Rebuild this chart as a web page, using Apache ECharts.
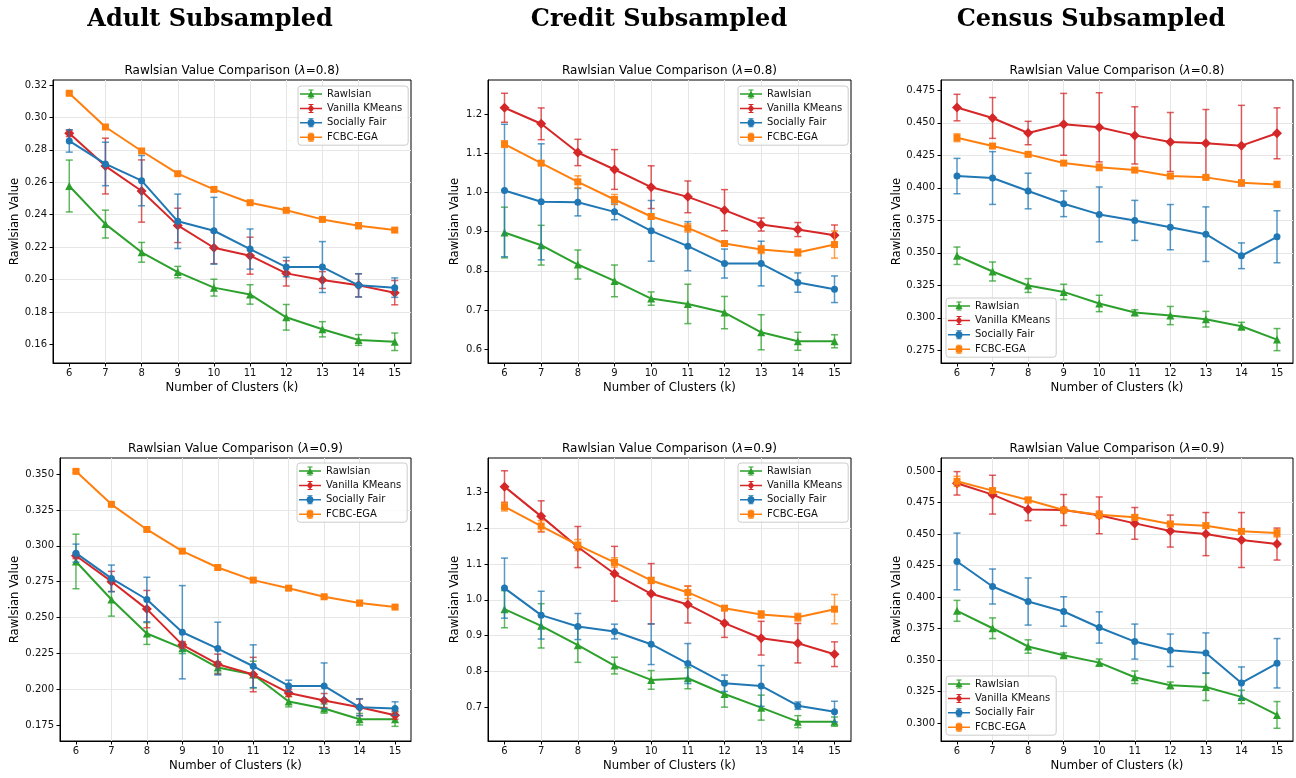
<!DOCTYPE html>
<html>
<head>
<meta charset="utf-8">
<script src="https://cdn.jsdelivr.net/npm/echarts@6/dist/echarts.min.js"></script>
<style>
  html, body { margin: 0; padding: 0; background: #fff; }
  #chart { width: 1296px; height: 778px; }
</style>
</head>
<body>
<div id="chart"></div>
<script>
// rawlsian value vs number of clusters, 3 datasets x 2 lambdas
const K = [6, 7, 8, 9, 10, 11, 12, 13, 14, 15];
const METHODS = ['Rawlsian', 'Vanilla KMeans', 'Socially Fair', 'FCBC-EGA'];
const DATASETS = ['Adult Subsampled', 'Credit Subsampled', 'Census Subsampled'];
const LAMBDAS = ['0.8', '0.9'];

// rows follow METHODS order, columns follow K
const adult08Mean = [
  [0.2577, 0.2342, 0.2168, 0.2046, 0.1950, 0.1908, 0.1767, 0.1693, 0.1627, 0.1616],
  [0.2902, 0.2700, 0.2546, 0.2334, 0.2196, 0.2147, 0.2038, 0.1997, 0.1964, 0.1919],
  [0.2855, 0.2713, 0.2610, 0.2359, 0.2301, 0.2188, 0.2077, 0.2077, 0.1964, 0.1950],
  [0.3149, 0.2941, 0.2793, 0.2653, 0.2556, 0.2474, 0.2427, 0.2371, 0.2332, 0.2305]
];
const adult08Std = [
  [0.0160, 0.0086, 0.0061, 0.0035, 0.0052, 0.0060, 0.0079, 0.0047, 0.0033, 0.0054],
  [0.0020, 0.0172, 0.0192, 0.0106, 0.0098, 0.0114, 0.0078, 0.0052, 0.0071, 0.0075],
  [0.0069, 0.0134, 0.0155, 0.0168, 0.0206, 0.0124, 0.0060, 0.0157, 0.0072, 0.0060],
  [0.0010, 0.0012, 0.0010, 0.0010, 0.0012, 0.0010, 0.0008, 0.0010, 0.0018, 0.0010]
];
const credit08Mean = [
  [0.8979, 0.8655, 0.8162, 0.7745, 0.7294, 0.7157, 0.6936, 0.6434, 0.6204, 0.6204],
  [1.2162, 1.1753, 1.1021, 1.0587, 1.0136, 0.9889, 0.9549, 0.9183, 0.9055, 0.8911],
  [1.0051, 0.9762, 0.9753, 0.9506, 0.9021, 0.8630, 0.8187, 0.8187, 0.7702, 0.7532],
  [1.1234, 1.0749, 1.0272, 0.9821, 0.9387, 0.9098, 0.8698, 0.8545, 0.8468, 0.8672]
];
const credit08Std = [
  [0.0647, 0.0507, 0.0370, 0.0405, 0.0170, 0.0502, 0.0412, 0.0447, 0.0230, 0.0166],
  [0.0370, 0.0405, 0.0336, 0.0507, 0.0545, 0.0405, 0.0524, 0.0166, 0.0179, 0.0260],
  [0.1690, 0.1480, 0.0350, 0.0200, 0.0775, 0.0626, 0.0370, 0.0570, 0.0247, 0.0340],
  [0.0085, 0.0050, 0.0153, 0.0128, 0.0050, 0.0107, 0.0050, 0.0102, 0.0090, 0.0347]
];
const census08Mean = [
  [0.3477, 0.3356, 0.3248, 0.3199, 0.3110, 0.3040, 0.3017, 0.2989, 0.2935, 0.2832],
  [0.4617, 0.4537, 0.4421, 0.4488, 0.4465, 0.4403, 0.4352, 0.4342, 0.4324, 0.4419],
  [0.4090, 0.4075, 0.3975, 0.3877, 0.3795, 0.3749, 0.3697, 0.3643, 0.3477, 0.3623],
  [0.4385, 0.4321, 0.4257, 0.4190, 0.4157, 0.4136, 0.4090, 0.4080, 0.4039, 0.4026]
];
const census08Std = [
  [0.0067, 0.0073, 0.0053, 0.0059, 0.0063, 0.0021, 0.0070, 0.0060, 0.0030, 0.0085],
  [0.0102, 0.0157, 0.0090, 0.0238, 0.0266, 0.0220, 0.0227, 0.0260, 0.0310, 0.0196],
  [0.0136, 0.0203, 0.0137, 0.0099, 0.0211, 0.0154, 0.0174, 0.0210, 0.0099, 0.0200],
  [0.0030, 0.0015, 0.0012, 0.0012, 0.0025, 0.0015, 0.0015, 0.0012, 0.0018, 0.0022]
];
const adult09Mean = [
  [0.2891, 0.2626, 0.2389, 0.2287, 0.2152, 0.2103, 0.1915, 0.1866, 0.1792, 0.1792],
  [0.2931, 0.2752, 0.2559, 0.2310, 0.2175, 0.2103, 0.1975, 0.1922, 0.1875, 0.1820],
  [0.2949, 0.2773, 0.2626, 0.2398, 0.2284, 0.2161, 0.2024, 0.2024, 0.1875, 0.1866],
  [0.3519, 0.3289, 0.3114, 0.2963, 0.2849, 0.2761, 0.2705, 0.2645, 0.2601, 0.2573]
];
const adult09Std = [
  [0.0190, 0.0116, 0.0076, 0.0038, 0.0040, 0.0093, 0.0037, 0.0032, 0.0040, 0.0050],
  [0.0020, 0.0070, 0.0130, 0.0023, 0.0070, 0.0120, 0.0026, 0.0049, 0.0058, 0.0028],
  [0.0063, 0.0093, 0.0155, 0.0325, 0.0184, 0.0149, 0.0040, 0.0160, 0.0059, 0.0047],
  [0.0010, 0.0010, 0.0010, 0.0010, 0.0010, 0.0010, 0.0012, 0.0010, 0.0018, 0.0010]
];
const credit09Mean = [
  [0.9738, 0.9271, 0.8729, 0.8159, 0.7757, 0.7804, 0.7364, 0.6981, 0.6589, 0.6589],
  [1.3168, 1.2336, 1.1477, 1.0729, 1.0168, 0.9869, 0.9346, 0.8925, 0.8785, 0.8477],
  [1.0327, 0.9570, 0.9252, 0.9112, 0.8757, 0.8215, 0.7664, 0.7589, 0.7037, 0.6869],
  [1.2607, 1.2065, 1.1533, 1.1047, 1.0542, 1.0206, 0.9766, 0.9589, 0.9514, 0.9738]
];
const credit09Std = [
  [0.0520, 0.0620, 0.0480, 0.0234, 0.0262, 0.0295, 0.0370, 0.0350, 0.0168, 0.0130],
  [0.0444, 0.0435, 0.0575, 0.0767, 0.0846, 0.0519, 0.0398, 0.0472, 0.0552, 0.0346],
  [0.0841, 0.0669, 0.0365, 0.0206, 0.0570, 0.0560, 0.0229, 0.0570, 0.0103, 0.0290],
  [0.0120, 0.0150, 0.0154, 0.0130, 0.0085, 0.0173, 0.0050, 0.0103, 0.0107, 0.0410]
];
const census09Mean = [
  [0.3890, 0.3752, 0.3607, 0.3538, 0.3479, 0.3363, 0.3299, 0.3286, 0.3207, 0.3064],
  [0.4902, 0.4812, 0.4695, 0.4690, 0.4648, 0.4584, 0.4523, 0.4499, 0.4452, 0.4420],
  [0.4282, 0.4083, 0.3964, 0.3885, 0.3758, 0.3646, 0.3577, 0.3556, 0.3318, 0.3474],
  [0.4918, 0.4844, 0.4770, 0.4690, 0.4653, 0.4632, 0.4579, 0.4566, 0.4521, 0.4507]
];
const census09Std = [
  [0.0083, 0.0082, 0.0053, 0.0018, 0.0029, 0.0050, 0.0026, 0.0108, 0.0053, 0.0106],
  [0.0093, 0.0154, 0.0089, 0.0123, 0.0146, 0.0126, 0.0127, 0.0171, 0.0218, 0.0127],
  [0.0225, 0.0139, 0.0187, 0.0117, 0.0124, 0.0139, 0.0129, 0.0159, 0.0127, 0.0196],
  [0.0040, 0.0020, 0.0020, 0.0020, 0.0030, 0.0020, 0.0020, 0.0020, 0.0020, 0.0030]
];

// y tick labels per panel
const adult08Ticks = [0.16, 0.18, 0.20, 0.22, 0.24, 0.26, 0.28, 0.30, 0.32];
const credit08Ticks = [0.6, 0.7, 0.8, 0.9, 1.0, 1.1, 1.2];
const census08Ticks = [0.275, 0.300, 0.325, 0.350, 0.375, 0.400, 0.425, 0.450, 0.475];
const adult09Ticks = [0.175, 0.200, 0.225, 0.250, 0.275, 0.300, 0.325, 0.350];
const credit09Ticks = [0.7, 0.8, 0.9, 1.0, 1.1, 1.2, 1.3];
const census09Ticks = [0.300, 0.325, 0.350, 0.375, 0.400, 0.425, 0.450, 0.475, 0.500];

const COLORS = ['#2ca02c', '#d62728', '#1f77b4', '#ff7f0e'];
const SYMBOLS = ['triangle', 'diamond', 'circle', 'rect'];
const SYMBOL_SIZES = [[8, 8], [10, 10], 7, 7];
const FONT = 'DejaVu Sans';

// legend handle: line + errorbar + marker, drawn in a 22x9 box
const HANDLE = 'M0 3.75H22V5.25H0Z M10.4 0H11.6V9H10.4Z M8.5 0H13.5V1H8.5Z M8.5 8H13.5V9H8.5Z ';
const MARKER_PATHS = [
  'M11 1L14.5 7.5L7.5 7.5Z',
  'M11 0.5L14.3 4.5L11 8.5L7.7 4.5Z',
  'M7.5 4.5A3.5 3.5 0 1 1 14.5 4.5A3.5 3.5 0 1 1 7.5 4.5Z',
  'M7.8 1.3H14.2V7.7H7.8Z'
];

const PANELS = [
  { mean: adult08Mean, std: adult08Std, ticks: adult08Ticks, lam: LAMBDAS[0], dec: 2, step: 0.02,
    yMin: 0.1485, yMax: 0.3231, box: [53, 80, 358, 283], nameGap: 32, legend: [298, 86] },
  { mean: credit08Mean, std: credit08Std, ticks: credit08Ticks, lam: LAMBDAS[0], dec: 1, step: 0.1,
    yMin: 0.565, yMax: 1.287, box: [488, 80, 363, 283], nameGap: 27, legend: [738, 86] },
  { mean: census08Mean, std: census08Std, ticks: census08Ticks, lam: LAMBDAS[0], dec: 3, step: 0.025,
    yMin: 0.2652, yMax: 0.4829, box: [941, 80, 352, 283], nameGap: 38, legend: [946, 298] },
  { mean: adult09Mean, std: adult09Std, ticks: adult09Ticks, lam: LAMBDAS[1], dec: 3, step: 0.025,
    yMin: 0.164, yMax: 0.3612, box: [60, 458, 351, 283], nameGap: 39, legend: [297, 463] },
  { mean: credit09Mean, std: credit09Std, ticks: credit09Ticks, lam: LAMBDAS[1], dec: 1, step: 0.1,
    yMin: 0.6047, yMax: 1.397, box: [488, 458, 363, 283], nameGap: 27, legend: [738, 463] },
  { mean: census09Mean, std: census09Std, ticks: census09Ticks, lam: LAMBDAS[1], dec: 3, step: 0.025,
    yMin: 0.2857, yMax: 0.5103, box: [941, 458, 352, 283], nameGap: 38, legend: [946, 676] }
];
const HEADER_X = [210, 659, 1091];

const chart = echarts.init(document.getElementById('chart'));

const grids = PANELS.map(p => ({
  left: p.box[0], top: p.box[1], width: p.box[2], height: p.box[3],
  show: true, borderColor: '#000', borderWidth: 1, backgroundColor: '#fff'
}));

const xAxes = PANELS.map((p, i) => ({
  type: 'value', gridIndex: i, min: 5.55, max: 15.45, minInterval: 1, maxInterval: 1,
  name: 'Number of Clusters (k)', nameLocation: 'middle', nameGap: 19,
  nameTextStyle: { fontFamily: FONT, fontSize: 11.7, color: '#000' },
  axisLine: { lineStyle: { color: '#000', width: 1 } },
  axisTick: { length: 3.5, lineStyle: { color: '#000' }, customValues: K },
  axisLabel: { customValues: K, margin: 5, fontFamily: FONT, fontSize: 10, color: '#111' },
  splitLine: { show: true, showMinLine: false, showMaxLine: false, lineStyle: { color: '#e6e6e6', width: 1 } }
}));

const yAxes = PANELS.map((p, i) => ({
  type: 'value', gridIndex: i, min: p.yMin, max: p.yMax, minInterval: p.step, maxInterval: p.step,
  name: 'Rawlsian Value', nameLocation: 'middle', nameGap: p.nameGap,
  nameTextStyle: { fontFamily: FONT, fontSize: 11.7, color: '#000' },
  axisLine: { show: true, lineStyle: { color: '#000', width: 1 } },
  axisTick: { show: true, length: 3.5, lineStyle: { color: '#000' }, customValues: p.ticks },
  axisLabel: { customValues: p.ticks, margin: 6, fontFamily: FONT, fontSize: 10, color: '#111',
    formatter: v => v.toFixed(p.dec) },
  splitLine: { show: true, showMinLine: false, showMaxLine: false, lineStyle: { color: '#e6e6e6', width: 1 } }
}));

function errorBars(panelIdx, m, p) {
  return {
    type: 'custom', name: METHODS[m], xAxisIndex: panelIdx, yAxisIndex: panelIdx,
    z: 2 + m * 2, silent: true,
    itemStyle: { color: COLORS[m] },
    encode: { x: 0, y: 1 },
    data: K.map((k, j) => [k, p.mean[m][j], p.std[m][j]]),
    renderItem: (params, api) => {
      const x = api.value(0), mu = api.value(1), sd = api.value(2);
      const hi = api.coord([x, mu + sd]);
      const lo = api.coord([x, mu - sd]);
      const cap = 3.5;
      const style = { stroke: COLORS[m], lineWidth: 1.5, opacity: 0.75 };
      return {
        type: 'group',
        children: [
          { type: 'line', shape: { x1: hi[0], y1: hi[1], x2: lo[0], y2: lo[1] }, style },
          { type: 'line', shape: { x1: hi[0] - cap, y1: hi[1], x2: hi[0] + cap, y2: hi[1] }, style },
          { type: 'line', shape: { x1: lo[0] - cap, y1: lo[1], x2: lo[0] + cap, y2: lo[1] }, style }
        ]
      };
    }
  };
}

const series = [];
PANELS.forEach((p, i) => {
  METHODS.forEach((name, m) => {
    series.push({
      type: 'line', name, xAxisIndex: i, yAxisIndex: i, z: 3 + m * 2,
      data: K.map((k, j) => [k, p.mean[m][j]]),
      symbol: SYMBOLS[m], symbolSize: SYMBOL_SIZES[m], showSymbol: true,
      lineStyle: { color: COLORS[m], width: 2 },
      itemStyle: { color: COLORS[m] },
      emphasis: { disabled: true }
    });
    series.push(errorBars(i, m, p));
  });
});

const legends = PANELS.map(p => ({
  orient: 'vertical', left: p.legend[0], top: p.legend[1],
  itemWidth: 22, itemHeight: 9, itemGap: 4.4,
  padding: [3, 6, 3, 2],
  backgroundColor: 'rgba(255,255,255,0.8)', borderColor: '#cccccc', borderWidth: 1, borderRadius: 3,
  textStyle: { fontFamily: FONT, fontSize: 10, color: '#111' },
  selectedMode: false,
  data: METHODS.map((name, m) => ({ name, icon: 'path://' + HANDLE + MARKER_PATHS[m] }))
}));

const texts = [];
DATASETS.forEach((d, c) => {
  texts.push({
    type: 'text', x: HEADER_X[c], y: 19.5,
    style: { text: d, align: 'center', verticalAlign: 'middle', fill: '#000',
      fontFamily: 'DejaVu Serif', fontWeight: 'bold', fontSize: 24 }
  });
});
PANELS.forEach(p => {
  texts.push({
    type: 'text', x: p.box[0] + p.box[2] / 2, y: p.box[1] - 9.5,
    style: {
      text: 'Rawlsian Value Comparison ({i|λ}=' + p.lam + ')',
      align: 'center', verticalAlign: 'middle', fill: '#000',
      fontFamily: FONT, fontSize: 12,
      rich: { i: { fontStyle: 'italic', fontFamily: FONT, fontSize: 12, fill: '#000' } }
    }
  });
});

chart.setOption({
  animation: false,
  backgroundColor: '#fff',
  grid: grids,
  xAxis: xAxes,
  yAxis: yAxes,
  legend: legends,
  series,
  graphic: texts
});
</script>
</body>
</html>
